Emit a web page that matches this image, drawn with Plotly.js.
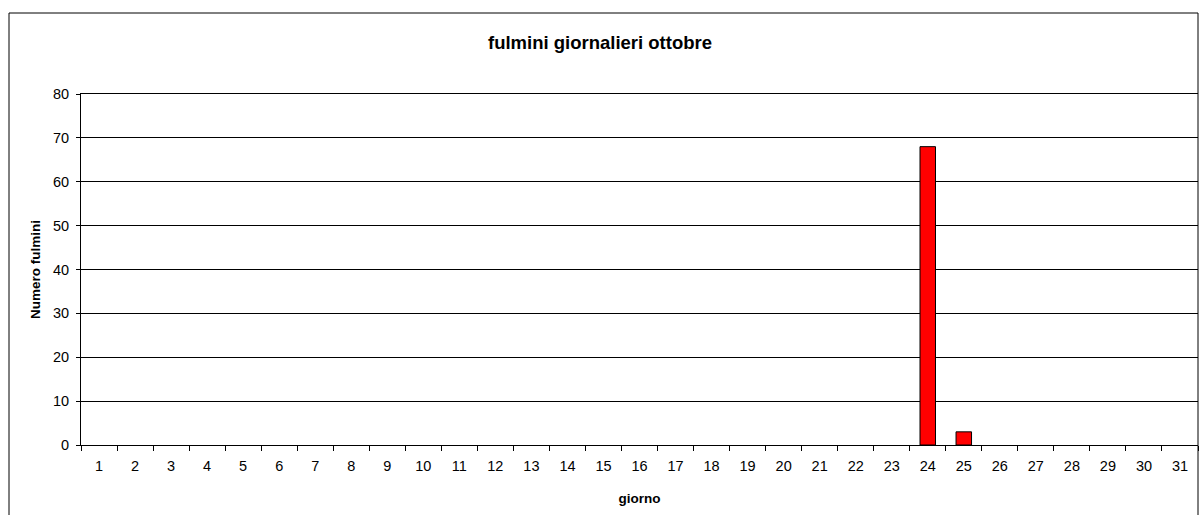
<!DOCTYPE html>
<html>
<head>
<meta charset="utf-8">
<script src="https://cdn.plot.ly/plotly-3.0.1.min.js"></script>
<style>html,body{margin:0;padding:0;background:#fff;}#chart{width:1200px;height:515px;}</style>
</head>
<body>
<div id="chart"></div>
<script>
var days = ["1","2","3","4","5","6","7","8","9","10","11","12","13","14","15","16","17","18","19","20","21","22","23","24","25","26","27","28","29","30","31"];
var fulmini = [0,0,0,0,0,0,0,0,0,0,0,0,0,0,0,0,0,0,0,0,0,0,0,68,3,0,0,0,0,0,0];
var yTicks = [0,10,20,30,40,50,60,70,80];

var font = "Liberation Sans, Arial, sans-serif";
var trace = {
  type: "bar",
  x: days,
  y: fulmini,
  width: 0.43,
  marker: {color: "#ff0000", line: {color: "#000000", width: fulmini.map(function(v){ return v > 0 ? 1 : 0; })}},
  hoverinfo: "x+y"
};
var layout = {
  width: 1200, height: 515,
  margin: {l: 81, r: 2, t: 94, b: 70},
  paper_bgcolor: "#ffffff",
  plot_bgcolor: "#ffffff",
  showlegend: false,
  font: {family: font, color: "#000000", size: 14},
  title: {text: "<b>fulmini giornalieri ottobre</b>", font: {family: font, size: 18.5, color: "#000"},
          xref: "container", x: 0.5, yref: "container", y: 1 - 43/515, yanchor: "middle"},
  xaxis: {
    type: "category",
    tickson: "boundaries",
    ticks: "outside", ticklen: 5, tickcolor: "#000", tickwidth: 1,
    ticklabelstandoff: 8,
    showline: true, linecolor: "#000", linewidth: 1, mirror: true,
    showgrid: false, zeroline: false,
    tickfont: {family: font, size: 14.5, color: "#000"},
    title: {text: "<b>giorno</b>", font: {family: font, size: 13.5, color: "#000"}, standoff: 20},
    fixedrange: true
  },
  yaxis: {
    range: [0, 80],
    tickvals: yTicks,
    ticks: "outside", ticklen: 4, tickcolor: "#000", tickwidth: 1,
    ticklabelstandoff: 4,
    showline: true, linecolor: "#000", linewidth: 1,
    showgrid: true, gridcolor: "#000", gridwidth: 1,
    zeroline: false,
    tickfont: {family: font, size: 14.5, color: "#000"},
    title: {text: "<b>Numero fulmini</b>", font: {family: font, size: 13.5, color: "#000"}, standoff: 9},
    fixedrange: true
  },
  shapes: [
    {type: "rect", xref: "paper", yref: "paper",
     x0: (9-81)/1117, x1: (1198-81)/1117, y0: (445-520)/351, y1: (445-13)/351,
     line: {color: "#000", width: 1}, fillcolor: "rgba(0,0,0,0)", layer: "below"}
  ]
};
Plotly.newPlot("chart", [trace], layout, {displayModeBar: false, staticPlot: true});
</script>
</body>
</html>
